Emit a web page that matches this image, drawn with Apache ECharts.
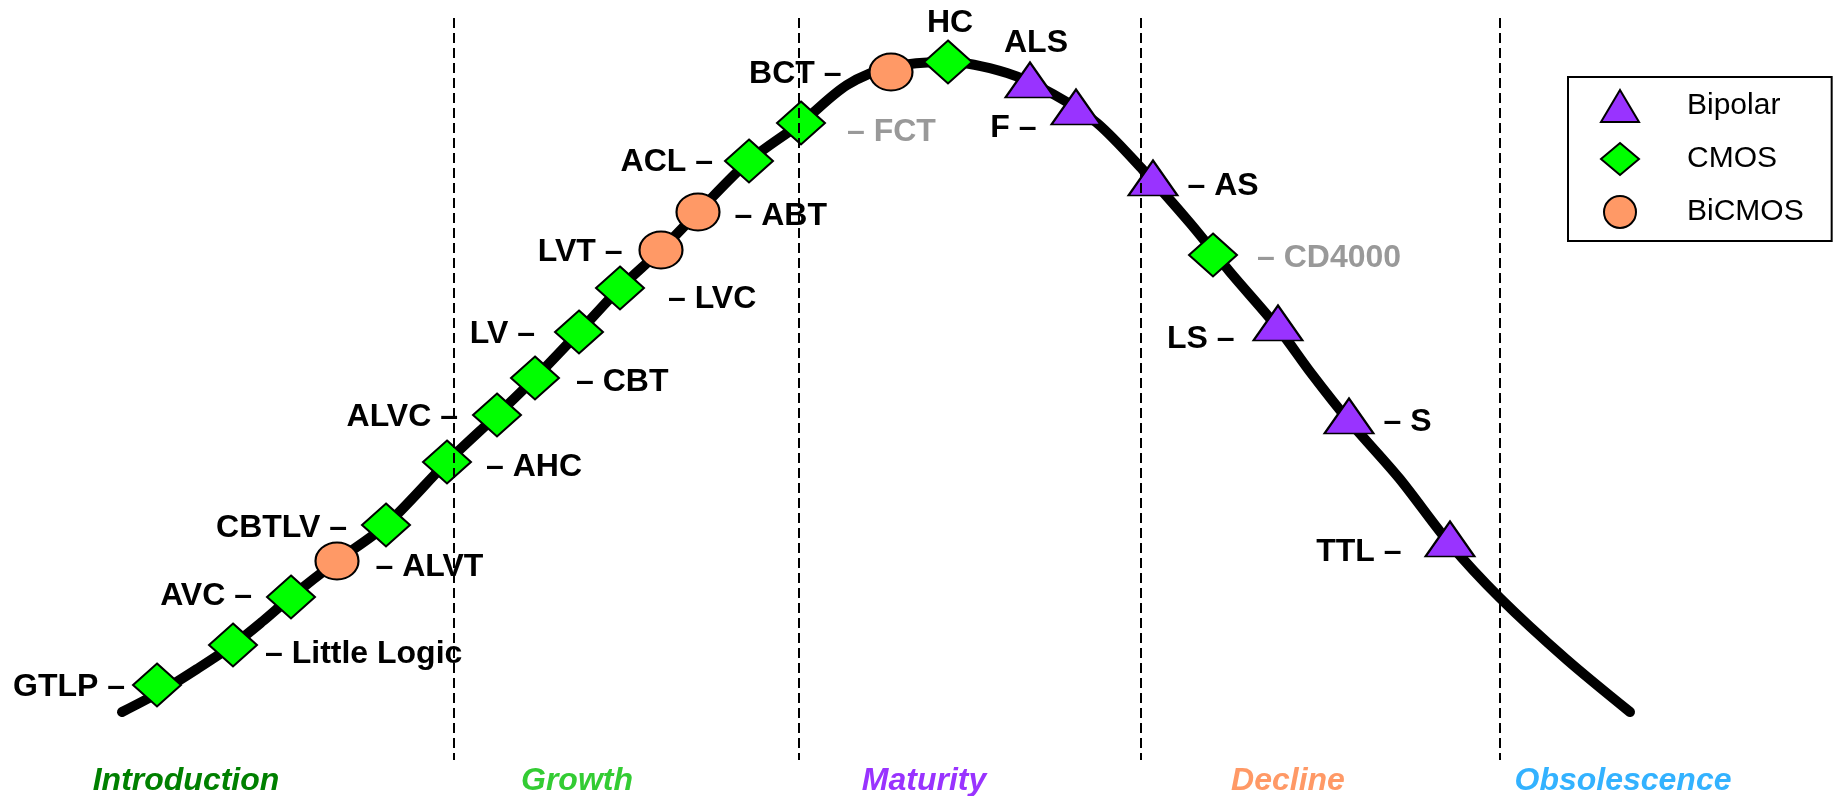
<!DOCTYPE html>
<html>
<head>
<meta charset="utf-8">
<script src="https://cdn.jsdelivr.net/npm/echarts@6/dist/echarts.min.js"></script>
<style>
html,body{margin:0;padding:0;background:#ffffff;}
#chart{width:1839px;height:796px;}
</style>
</head>
<body>
<div id="chart"></div>
<script>
// ---- Data (time along x, volume along y) ----
const curveTime   = [122,160,197,233,263,291,337,386,447,497,535,579,620,661,698,749,801,847,891,948,1007,1053,1097,1143,1190,1230,1278,1311,1349,1399,1450,1500,1566,1630];
const curveVolume = [84,104,127,151,175,199,235,271,334,381,418,464,508,546,584,635,673,711,729,734,723,702,673,626,573,524,468,423,375,318,252,198,137,84];

const bipolarNames  = ['ALS','F','AS','LS','S','TTL'];
const bipolarTime   = [1030,1076,1153,1278,1349,1450];
const bipolarVolume = [716,689,618,473,380,257];
const bipolarSide   = ['top','left','right','left','right','left'];

const cmosNames  = ['GTLP','Little Logic','AVC','CBTLV','AHC','ALVC','CBT','LV','LVC','ACL','FCT','HC','CD4000'];
const cmosTime   = [157,233,291,386,447,497,535,579,620,749,801,948,1213];
const cmosVolume = [111,151,199,271,334,381,418,464,508,635,673,734,541];
const cmosSide   = ['left','right','left','left','right','left','right','left','right','left','right','top','right'];

const bicmosNames  = ['ALVT','LVT','ABT','BCT'];
const bicmosTime   = [337,661,698,891];
const bicmosVolume = [235,546,584,724];
const bicmosSide   = ['right','left','right','left'];

const greyFamilies = ['FCT','CD4000'];

const stageNames   = ['Introduction','Growth','Maturity','Decline','Obsolescence'];
const stageCenters = [186,577,924,1288,1623];
const stageLabelY  = [15,15,15,15,15];
const stageBounds  = [454,799,1141,1500];
const boundTop = 778, boundBottom = 36;

// ---- Styling ----
const FONT = "'Liberation Sans', Arial, Helvetica, sans-serif";
const stageColors = ['#008000','#33CC33','#9933FF','#FF9966','#33B2FF'];
const typeStyle = {
  Bipolar: {symbol:'triangle', size:[49,35], color:'#9933FF'},
  CMOS:    {symbol:'diamond',  size:[48,43], color:'#00FF00'},
  BiCMOS:  {symbol:'circle',   size:[43,37], color:'#FF9966'}
};
// small per-label nudges [dx, dy] to match the hand-placed labels
const labelNudge = {
  'GTLP':[7,0],'Little Logic':[-7,7],'AVC':[0,-3],'ALVT':[2,4],'CBTLV':[0,1],'AHC':[0,3],
  'ALVC':[0,0],'CBT':[2,2],'LV':[-5,0],'LVC':[9,9],'LVT':[-2,0],'ABT':[0,2],'ACL':[3,-1],
  'FCT':[7,7],'BCT':[-13,0],'HC':[2,2],'ALS':[6,0],'F':[0,19],'AS':[-5,6],'CD4000':[5,1],
  'LS':[-4,14],'S':[-5,4],'TTL':[-9,11]
};
const LABEL_DY = 2;
const HIDDEN = 'rgba(0,0,0,0)';

function pairs(xs, ys) { return xs.map((x, i) => [x, ys[i]]); }

function markerData(names, xs, ys) {
  return names.map((n, i) => ({name: n, value: [xs[i], ys[i]]}));
}

function labelData(type, names, xs, ys, sides) {
  const st = typeStyle[type];
  return names.map((n, i) => {
    const side = sides[i];
    const text = side === 'left' ? n + ' \u2013' : side === 'right' ? '\u2013 ' + n : n;
    const nud = labelNudge[n] || [0, 0];
    return {
      name: n,
      value: [xs[i], ys[i]],
      symbol: st.symbol,
      symbolSize: st.size,
      label: {
        show: true,
        position: side,
        distance: side === 'top' ? 5 : 15,
        offset: [nud[0], nud[1] + LABEL_DY],
        formatter: text,
        color: greyFamilies.includes(n) ? '#999999' : '#000000'
      }
    };
  });
}

function markerSeries(type, names, xs, ys) {
  const st = typeStyle[type];
  return {
    name: type,
    type: 'scatter',
    z: 4,
    symbol: st.symbol,
    symbolSize: st.size,
    itemStyle: {color: st.color, borderColor: '#000000', borderWidth: 2, opacity: 1},
    emphasis: {disabled: true},
    data: markerData(names, xs, ys)
  };
}

const labelSeriesData = []
  .concat(labelData('Bipolar', bipolarNames, bipolarTime, bipolarVolume, bipolarSide))
  .concat(labelData('CMOS', cmosNames, cmosTime, cmosVolume, cmosSide))
  .concat(labelData('BiCMOS', bicmosNames, bicmosTime, bicmosVolume, bicmosSide));

const chart = echarts.init(document.getElementById('chart'), null, {renderer: 'canvas'});
chart.setOption({
  animation: false,
  backgroundColor: '#ffffff',
  textStyle: {fontFamily: FONT},
  grid: {left: 0, right: 0, top: 0, bottom: 0, containLabel: false},
  xAxis: {type: 'value', min: 0, max: 1839, show: false},
  yAxis: {type: 'value', min: 0, max: 796, show: false},
  legend: {
    orient: 'vertical',
    left: 1568,
    top: 77,
    padding: [12, 28, 12, 32],
    itemGap: 19,
    itemWidth: 38,
    itemHeight: 32,
    borderColor: '#000000',
    borderWidth: 2,
    backgroundColor: '#ffffff',
    selectedMode: false,
    textStyle: {fontSize: 30, color: '#000000', fontFamily: FONT, padding: [0, 0, 0, 43]},
    data: [
      {name: 'Bipolar', icon: 'triangle'},
      {name: 'CMOS', icon: 'diamond'},
      {name: 'BiCMOS', icon: 'circle'}
    ]
  },
  series: [
    {
      name: 'life cycle',
      type: 'line',
      z: 2,
      smooth: 0.3,
      symbol: 'none',
      silent: true,
      lineStyle: {color: '#000000', width: 10, cap: 'round', join: 'round'},
      data: pairs(curveTime, curveVolume)
    },
    {
      name: 'stage boundaries',
      type: 'line',
      z: 3,
      data: [],
      markLine: {
        silent: true,
        symbol: 'none',
        label: {show: false},
        lineStyle: {color: '#000000', width: 2, type: [10, 5]},
        data: stageBounds.map(b => [{coord: [b, boundTop]}, {coord: [b, boundBottom]}])
      }
    },
    {
      name: 'family labels',
      type: 'scatter',
      z: 1,
      silent: true,
      itemStyle: {color: HIDDEN, borderWidth: 0, opacity: 1},
      label: {fontSize: 32, fontWeight: 'bold', fontFamily: FONT},
      data: labelSeriesData
    },
    markerSeries('Bipolar', bipolarNames, bipolarTime, bipolarVolume),
    markerSeries('CMOS', cmosNames, cmosTime, cmosVolume),
    markerSeries('BiCMOS', bicmosNames, bicmosTime, bicmosVolume),
    {
      name: 'stages',
      type: 'scatter',
      z: 1,
      silent: true,
      symbolSize: 1,
      itemStyle: {color: HIDDEN, borderWidth: 0, opacity: 1},
      data: stageNames.map((n, i) => ({
        name: n,
        value: [stageCenters[i], stageLabelY[i]],
        label: {
          show: true,
          position: 'inside',
          formatter: n,
          color: stageColors[i],
          fontSize: 32,
          fontWeight: 'bold',
          fontStyle: 'italic',
          fontFamily: FONT
        }
      }))
    }
  ]
});
</script>
</body>
</html>
